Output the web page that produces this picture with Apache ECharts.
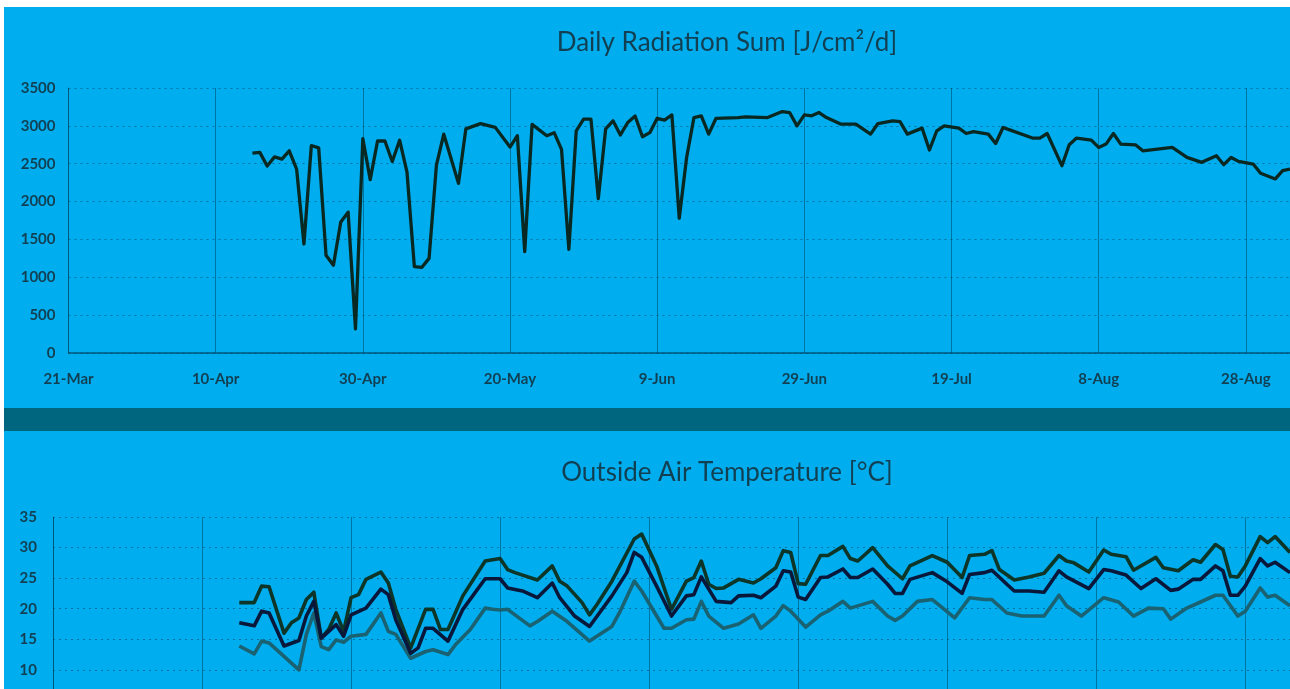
<!DOCTYPE html>
<html>
<head>
<meta charset="utf-8">
<script src="https://cdn.jsdelivr.net/npm/echarts@6/dist/echarts.min.js"></script>
<style>
  html, body { margin: 0; padding: 0; background: #ffffff; overflow: hidden; width: 1290px; height: 689px; }
  #chart { position: absolute; left: 4px; top: 7px; width: 1286px; height: 760px; }
</style>
</head>
<body>
<div id="chart"></div>
<script>
// x values are days counted from 21-Mar
const dateTicks = ['21-Mar', '10-Apr', '30-Apr', '20-May', '9-Jun', '29-Jun', '19-Jul', '8-Aug', '28-Aug'];
const radTicks = [0, 500, 1000, 1500, 2000, 2500, 3000, 3500];
const tempTicks = [0, 5, 10, 15, 20, 25, 30, 35];

const radDays = [25, 26, 27, 28, 29, 30, 31, 32, 33, 34, 35, 36, 37, 38, 39, 40, 41, 42, 43, 44, 45, 46, 47, 48, 49, 50, 51, 53, 54, 56, 58, 60, 61, 62, 63, 65, 66, 67, 68, 69, 70, 71, 72, 73, 74, 75, 76, 77, 78, 79, 80, 81, 82, 83, 84, 85, 86, 87, 88, 91, 92, 95, 97, 98, 99, 100, 101, 102, 103, 105, 107, 109, 110, 112, 113, 114, 116, 117, 118, 119, 121, 122, 123, 125, 126, 127, 128, 131, 132, 133, 135, 136, 137, 139, 140, 141, 142, 143, 145, 146, 148, 150, 152, 154, 156, 157, 158, 159, 161, 162, 164, 165, 166];
const radValues = [2640, 2650, 2470, 2590, 2560, 2670, 2430, 1440, 2740, 2710, 1290, 1160, 1730, 1860, 320, 2830, 2290, 2800, 2800, 2530, 2810, 2390, 1140, 1130, 1250, 2480, 2890, 2240, 2960, 3030, 2980, 2720, 2870, 1340, 3020, 2870, 2910, 2690, 1370, 2935, 3090, 3090, 2040, 2960, 3066, 2880, 3044, 3130, 2856, 2910, 3100, 3076, 3145, 1780, 2583, 3110, 3132, 2891, 3100, 3110, 3119, 3110, 3189, 3176, 3000, 3145, 3132, 3176, 3110, 3022, 3022, 2891, 3031, 3066, 3057, 2891, 2970, 2681, 2935, 3000, 2970, 2899, 2925, 2891, 2767, 2978, 2944, 2839, 2839, 2899, 2474, 2750, 2839, 2812, 2715, 2759, 2899, 2759, 2750, 2671, 2694, 2715, 2583, 2518, 2606, 2487, 2583, 2531, 2496, 2373, 2299, 2408, 2430];

const tMaxDays = [25, 27, 28, 29, 31, 32, 33, 34, 35, 36, 37, 38, 39, 40, 41, 42, 44, 45, 46, 48, 50, 51, 52, 53, 55, 58, 60, 61, 62, 65, 67, 68, 69, 71, 72, 73, 75, 78, 79, 81, 83, 85, 86, 87, 88, 89, 90, 92, 94, 95, 97, 98, 99, 100, 101, 103, 104, 106, 107, 108, 110, 112, 114, 115, 118, 120, 122, 123, 125, 126, 127, 129, 131, 133, 135, 136, 137, 139, 141, 142, 144, 145, 148, 149, 151, 153, 154, 156, 157, 158, 159, 160, 162, 163, 164, 166];
const tMaxValues = [21.0, 21.0, 23.7, 23.6, 16.0, 17.7, 18.5, 21.5, 22.7, 15.2, 16.6, 19.3, 16.3, 21.8, 22.3, 24.8, 26.0, 24.2, 19.9, 13.6, 19.9, 19.9, 16.6, 16.6, 22.1, 27.8, 28.2, 26.4, 25.9, 24.7, 27.0, 24.5, 23.7, 21.0, 19.0, 20.7, 24.5, 31.4, 32.2, 27.0, 19.9, 24.5, 25.1, 27.8, 24.0, 23.3, 23.4, 24.8, 24.2, 24.9, 26.7, 29.5, 29.2, 24.1, 24.0, 28.7, 28.7, 30.2, 28.2, 27.8, 30.0, 27.0, 24.9, 27.0, 28.7, 27.6, 25.1, 28.7, 28.9, 29.5, 26.4, 24.7, 25.2, 25.8, 28.7, 27.8, 27.5, 26.0, 29.6, 28.9, 28.5, 26.3, 28.4, 26.7, 26.2, 28.0, 27.6, 30.5, 29.7, 25.3, 25.2, 27.0, 31.8, 30.8, 31.8, 29.2];

const tMeanDays = [25, 27, 28, 29, 31, 33, 34, 35, 36, 38, 39, 40, 42, 44, 45, 46, 48, 49, 50, 51, 53, 55, 58, 60, 61, 63, 65, 67, 68, 70, 72, 75, 77, 78, 79, 81, 83, 85, 86, 87, 89, 91, 92, 94, 95, 97, 98, 99, 100, 101, 103, 104, 106, 107, 108, 110, 112, 113, 114, 115, 118, 120, 122, 123, 125, 126, 128, 129, 131, 133, 135, 136, 139, 141, 142, 144, 146, 148, 150, 151, 153, 154, 156, 157, 158, 159, 160, 162, 163, 164, 166];
const tMeanValues = [17.7, 17.2, 19.6, 19.3, 13.9, 14.8, 18.8, 21.2, 15.2, 17.4, 15.5, 19.0, 20.1, 23.2, 22.3, 18.2, 12.7, 13.6, 16.8, 16.8, 14.7, 19.9, 24.9, 24.9, 23.4, 22.9, 21.8, 24.2, 21.8, 18.8, 17.1, 22.1, 25.9, 29.2, 28.4, 23.7, 18.8, 22.1, 22.3, 25.2, 21.2, 21.0, 22.1, 22.2, 21.8, 23.7, 26.2, 26.0, 21.9, 21.5, 25.1, 25.2, 26.5, 25.1, 25.1, 26.5, 24.0, 22.5, 22.5, 24.8, 25.9, 24.4, 22.5, 25.6, 25.9, 26.3, 24.0, 22.9, 22.9, 22.7, 26.2, 25.2, 23.3, 26.4, 26.2, 25.5, 23.3, 24.9, 23.0, 23.2, 24.8, 24.8, 27.0, 26.2, 22.2, 22.2, 23.7, 28.2, 27.0, 27.6, 25.9];

const tMinDays = [25, 27, 28, 29, 31, 33, 34, 35, 36, 37, 38, 39, 40, 42, 44, 45, 46, 48, 50, 51, 53, 54, 56, 58, 59, 60, 61, 64, 65, 67, 69, 72, 75, 76, 78, 79, 82, 83, 85, 86, 87, 88, 90, 92, 94, 95, 97, 98, 99, 101, 103, 104, 106, 107, 110, 112, 113, 114, 116, 118, 119, 121, 123, 125, 126, 128, 130, 133, 135, 136, 138, 141, 143, 145, 147, 149, 150, 152, 154, 156, 157, 159, 160, 162, 163, 164, 166];
const tMinValues = [13.9, 12.6, 14.7, 14.4, 12.2, 10.0, 15.8, 19.3, 13.8, 13.3, 14.9, 14.5, 15.5, 15.8, 19.3, 16.3, 15.8, 11.9, 13.0, 13.3, 12.5, 14.1, 16.6, 20.1, 19.9, 19.8, 19.9, 17.2, 17.9, 19.6, 17.9, 14.7, 17.1, 19.3, 24.5, 22.9, 16.8, 16.8, 18.2, 18.3, 21.2, 18.8, 16.8, 17.5, 19.0, 16.8, 18.8, 20.5, 19.6, 17.0, 19.0, 19.6, 21.2, 20.1, 21.2, 18.8, 18.1, 18.8, 21.2, 21.5, 20.5, 18.5, 21.8, 21.5, 21.5, 19.3, 18.8, 18.8, 22.2, 20.5, 18.8, 21.8, 21.1, 18.8, 20.1, 20.0, 18.3, 20.0, 21.1, 22.2, 22.2, 18.8, 19.6, 23.4, 21.9, 22.2, 20.5];

const zip = (xs, ys) => xs.map((x, i) => [x, ys[i]]);

const BG = '#00aeef';
const TXT = '#123f52';
const GRID = 'rgba(0,70,100,0.55)';
const fontFam = 'Lato, "Open Sans", sans-serif';

const dateFmt = v => (v % 20 === 0 && dateTicks[v / 20] !== undefined) ? dateTicks[v / 20] : '';
const numFmt = v => String(v);

const chart = echarts.init(document.getElementById('chart'), null, { renderer: 'canvas' });

const labelStyle = { color: TXT, fontFamily: fontFam, fontSize: 15, fontWeight: 'bold' };

const xCommon = {
  type: 'value', min: 0, max: 166, interval: 20,
  axisLine: { show: true, lineStyle: { color: 'rgba(0,60,85,0.75)', width: 1.5 } },
  axisTick: { show: false },
  splitLine: { show: true, lineStyle: { color: GRID, width: 1, type: 'solid' } },
  axisLabel: Object.assign({ formatter: dateFmt, showMaxLabel: false, margin: 19 }, labelStyle)
};

chart.setOption({
  backgroundColor: BG,
  animation: false,
  title: [
    { text: 'Daily Radiation Sum [J/cm²/d]', left: 718, top: 18, textAlign: 'center',
      textStyle: { color: TXT, fontFamily: fontFam, fontSize: 26, fontWeight: 'normal' } },
    { text: 'Outside Air Temperature [°C]', left: 718, top: 448, textAlign: 'center',
      textStyle: { color: TXT, fontFamily: fontFam, fontSize: 26, fontWeight: 'normal' } }
  ],
  graphic: [
    { type: 'rect', left: 0, top: 401, shape: { width: 1286, height: 23 }, style: { fill: '#00657f' }, silent: true }
  ],
  grid: [
    { left: 64.5, top: 81, width: 1223.4, height: 265 },
    { left: 49, top: 510, width: 1238.4, height: 214 }
  ],
  xAxis: [
    Object.assign({}, xCommon, { gridIndex: 0 }),
    Object.assign({}, xCommon, { gridIndex: 1 })
  ],
  yAxis: [
    { type: 'value', gridIndex: 0, min: radTicks[0], max: radTicks[radTicks.length - 1], interval: 500,
      axisLine: { show: true, lineStyle: { color: 'rgba(0,60,85,0.5)', width: 1 } },
      axisTick: { show: false },
      splitLine: { show: true, lineStyle: { color: GRID, width: 1.2, type: [2, 4] } },
      axisLabel: Object.assign({ formatter: numFmt, margin: 13 }, labelStyle) },
    { type: 'value', gridIndex: 1, min: tempTicks[0], max: tempTicks[tempTicks.length - 1], interval: 5,
      axisLine: { show: true, lineStyle: { color: 'rgba(0,60,85,0.5)', width: 1 } },
      axisTick: { show: false },
      splitLine: { show: true, lineStyle: { color: GRID, width: 1.2, type: [2, 4] } },
      axisLabel: Object.assign({ formatter: numFmt, margin: 16 }, labelStyle) }
  ],
  series: [
    { type: 'line', name: 'Radiation', xAxisIndex: 0, yAxisIndex: 0, data: zip(radDays, radValues),
      showSymbol: false, lineStyle: { color: '#0a2822', width: 3.3, join: 'round' } },
    { type: 'line', name: 'Min', xAxisIndex: 1, yAxisIndex: 1, data: zip(tMinDays, tMinValues),
      showSymbol: false, lineStyle: { color: '#1a6272', width: 3.6, join: 'round' } },
    { type: 'line', name: 'Max', xAxisIndex: 1, yAxisIndex: 1, data: zip(tMaxDays, tMaxValues),
      showSymbol: false, lineStyle: { color: '#0d3528', width: 3.6, join: 'round' } },
    { type: 'line', name: 'Mean', xAxisIndex: 1, yAxisIndex: 1, data: zip(tMeanDays, tMeanValues),
      showSymbol: false, lineStyle: { color: '#09173a', width: 3.6, join: 'round' } }
  ]
});
</script>
</body>
</html>
